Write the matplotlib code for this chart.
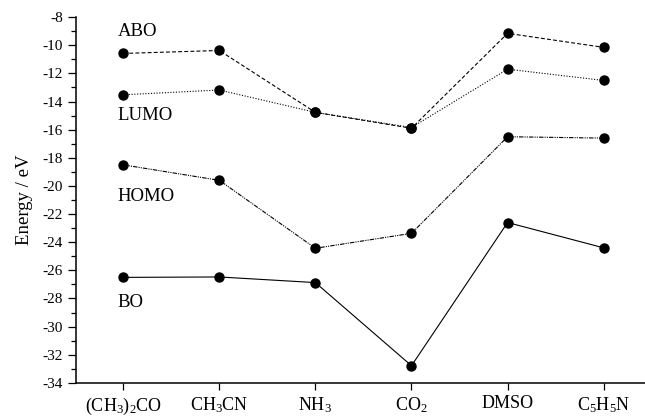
import matplotlib
matplotlib.use("Agg")
import matplotlib.pyplot as plt
from matplotlib.ticker import MultipleLocator

plt.rcParams["font.family"] = ["Liberation Serif", "DejaVu Serif"]
plt.rcParams["mathtext.fontset"] = "custom"
plt.rcParams["mathtext.rm"] = "Liberation Serif"
plt.rcParams["mathtext.it"] = "Liberation Serif"
plt.rcParams["axes.unicode_minus"] = False

# molecules on the x axis
molecules = [r"(CH$_3$)$_2$CO", r"CH$_3$CN", r"NH$_3$", r"CO$_2$", "DMSO", r"C$_5$H$_5$N"]

# orbital energies (eV)
abo = [-10.58, -10.37, -14.77, -15.9, -9.15, -10.15]
lumo = [-13.52, -13.18, -14.77, -15.85, -11.7, -12.5]
homo = [-18.5, -19.6, -24.43, -23.37, -16.5, -16.6]
bo = [-26.5, -26.47, -26.87, -32.78, -22.6, -24.4]

series = [
    ("ABO", abo, (0, (3.5, 2)), -9.0),
    ("LUMO", lumo, (0, (1, 1.5)), -15.0),
    ("HOMO", homo, (0, (4, 1, 1, 1, 1, 1)), -20.75),
    ("BO", bo, "-", -28.3),
]

fig = plt.figure(figsize=(6.45, 4.18), dpi=100)
ax = fig.add_axes([0.118, 0.084, 0.882, 0.875])

x = list(range(len(molecules)))
for name, vals, ls, ylab in series:
    ax.plot(x, vals, color="black", linestyle=ls, linewidth=0.8,
            marker="o", markersize=6.5, markerfacecolor="black",
            markeredgecolor="black")
    ax.text(-0.06, ylab, name, fontsize=13.5, ha="left", va="center")

ax.set_xlim(-0.49, 5.43)
ax.set_ylim(-34, -8)
ax.set_xticks(x)
ax.set_xticklabels(molecules, fontsize=13)
ax.yaxis.set_major_locator(MultipleLocator(2))
ax.yaxis.set_minor_locator(MultipleLocator(1))
ax.tick_params(axis="y", which="major", direction="out", length=6, width=0.9, labelsize=11)
ax.tick_params(axis="y", which="minor", direction="out", length=3.5, width=0.9)
ax.tick_params(axis="x", which="major", direction="out", length=5, width=0.9, pad=4)
ax.set_ylabel("Energy / eV", fontsize=13.5, labelpad=7)

for side in ("top", "right"):
    ax.spines[side].set_visible(False)
for side in ("left", "bottom"):
    ax.spines[side].set_linewidth(1.1)

fig.savefig("out.png", dpi=100)
